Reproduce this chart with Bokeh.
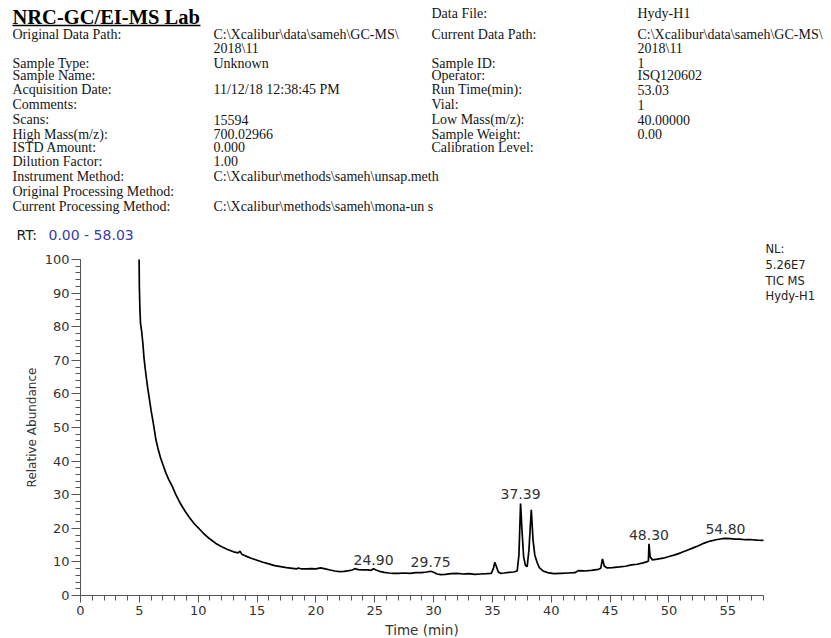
import numpy as np
from bokeh.plotting import figure
from bokeh.models import Range1d, FixedTicker, LinearAxis
from bokeh.core.properties import value
from bokeh.embed import file_html
from bokeh.resources import INLINE

# ---------------- data ----------------
rt = [4.98, 5.0, 5.05, 5.1, 5.2, 5.3, 5.4, 5.55, 5.7, 5.85,
      6.0, 6.2, 6.4, 6.6, 6.8, 7.0, 7.25, 7.5, 7.8, 8.1,
      8.5, 8.9, 9.3, 9.7, 10.1, 10.5, 11.0, 11.5, 12.0, 12.5,
      13.0, 13.4, 13.55, 13.7, 14.0, 14.5, 15.0, 15.5, 16.0, 16.5,
      17.0, 17.5, 18.0, 18.4, 18.5, 18.8, 19.2, 19.6, 20.0, 20.4,
      20.8, 21.2, 21.6, 22.0, 22.4, 22.8, 23.1, 23.3, 23.6, 24.0,
      24.4, 24.7, 24.9, 25.1, 25.4, 25.8, 26.2, 26.6, 27.0, 27.5,
      28.0, 28.5, 29.0, 29.4, 29.75, 30.0, 30.3, 30.6, 31.0, 31.5,
      32.0, 32.5, 33.0, 33.5, 34.0, 34.5, 34.9, 35.1, 35.2, 35.35,
      35.5, 35.7, 36.0, 36.4, 36.8, 37.1, 37.25, 37.39, 37.5, 37.65,
      37.8, 37.95, 38.1, 38.3, 38.45, 38.6, 38.8, 39.0, 39.3, 39.7,
      40.2, 40.8, 41.4, 42.0, 42.3, 42.8, 43.4, 44.0, 44.2, 44.35,
      44.5, 44.75, 45.2, 45.8, 46.3, 46.8, 47.3, 47.8, 48.1, 48.25,
      48.3, 48.4, 48.6, 49.0, 49.5, 50.0, 50.5, 51.0, 51.5, 52.0,
      52.5, 53.0, 53.5, 54.0, 54.5, 54.8, 55.2, 55.6, 56.0, 56.5,
      57.0, 57.5, 58.03]
abundance = [100, 92, 85, 81, 78.5, 75, 70.5, 66, 62, 58.5,
             55, 51, 46.5, 43.5, 41, 39, 36.5, 34.5, 32.5, 30,
             27.3, 25, 23, 21.2, 19.8, 18.3, 16.8, 15.5, 14.5, 13.7,
             13.0, 12.7, 13.2, 12.3, 11.8, 11.1, 10.5, 9.9, 9.4, 8.9,
             8.6, 8.3, 8.1, 7.9, 8.2, 7.9, 7.9, 8.0, 7.9, 8.2,
             7.9, 7.6, 7.3, 7.1, 7.2, 7.4, 7.6, 8.0, 7.7, 7.6,
             7.6, 7.5, 8.0, 7.6, 7.2, 6.9, 6.7, 6.6, 6.6, 6.7,
             6.6, 6.8, 6.8, 7.0, 7.2, 6.9, 6.4, 6.2, 6.3, 6.5,
             6.6, 6.4, 6.5, 6.3, 6.4, 6.5, 6.6, 8.2, 9.9, 8.5,
             7.0, 6.6, 6.7, 6.9, 7.0, 7.3, 12.0, 27.4, 20.0, 11.5,
             9.0, 8.6, 13.5, 25.5, 16.5, 12.0, 9.8, 8.2, 7.3, 6.8,
             6.5, 6.6, 6.7, 6.8, 7.4, 7.3, 7.5, 7.8, 8.1, 10.9,
             8.8, 8.2, 8.3, 8.5, 8.7, 9.1, 9.3, 9.7, 10.0, 10.3,
             15.4, 11.5, 10.6, 10.8, 11.1, 11.6, 12.1, 12.7, 13.4, 14.1,
             14.8, 15.6, 16.2, 16.6, 16.9, 17.0, 16.9, 16.8, 16.8, 16.6,
             16.6, 16.5, 16.4]
assert len(rt) == len(abundance)

peak_labels = ["24.90", "29.75", "37.39", "48.30", "54.80"]
peak_rt = [24.90, 29.75, 37.39, 48.30, 54.80]

x_major = [0, 5, 10, 15, 20, 25, 30, 35, 40, 45, 50, 55]
x_minor = list(range(0, 59))
y_major = [0, 10, 20, 30, 40, 50, 60, 70, 80, 90, 100]
y_minor = list(range(0, 101, 2))

title_text = "NRC-GC/EI-MS Lab"
left_labels = ["Original Data Path:", "Sample Type:", "Sample Name:", "Acquisition Date:",
               "Comments:", "Scans:", "High Mass(m/z):", "ISTD Amount:", "Dilution Factor:",
               "Instrument Method:", "Original Processing Method:", "Current Processing Method:"]
left_values = ["C:\\Xcalibur\\data\\sameh\\GC-MS\\", "2018\\11", "Unknown",
               "11/12/18 12:38:45 PM", "15594", "700.02966", "0.000", "1.00",
               "C:\\Xcalibur\\methods\\sameh\\unsap.meth", "C:\\Xcalibur\\methods\\sameh\\mona-un s"]
right_labels = ["Data File:", "Current Data Path:", "Sample ID:", "Operator:", "Run Time(min):",
                "Vial:", "Low Mass(m/z):", "Sample Weight:", "Calibration Level:"]
right_values = ["Hydy-H1", "C:\\Xcalibur\\data\\sameh\\GC-MS\\", "2018\\11", "1", "ISQ120602",
                "53.03", "1", "40.00000", "0.00"]
nl_lines = ["NL:", "5.26E7", "TIC  MS", "Hydy-H1"]

# ---------------- layout (page pixels, page origin = figure origin) ----------------
W, H = 831, 638
FL, FR, FT, FB = 80, 763, 259, 595          # x=0 / x=58.03 / y=100 / y=0 on page
X0, X1, Y0, Y1 = 0.0, 58.03, 0.0, 100.0

def dx(px):
    return X0 + (px - FL) / (FR - FL) * (X1 - X0)

def dy(py):
    return Y0 + (FB - py) / (FB - FT) * (Y1 - Y0)

left_label_rows = [33.5, 62.5, 75, 89, 104, 119, 133.5, 146.5, 160.5, 176, 191, 205.5]
left_value_rows = [33.5, 48, 62.5, 89, 119, 133.5, 146.5, 160.5, 176, 205.5]
right_label_rows = [12.5, 33.5, 62.5, 75, 89, 104, 119, 133.5, 146.5]
right_value_rows = [12.5, 33.5, 48, 62.5, 75, 89, 104, 119, 133.5]
nl_rows = [248, 264, 280, 295]

p = figure(width=W, height=H, x_range=Range1d(dx(0), dx(W)), y_range=Range1d(dy(H), dy(0)),
           x_axis_type=None, y_axis_type=None, title=None,
           output_backend="svg", toolbar_location=None, min_border=0)
p.outline_line_color = None

# ---- axes, drawn at x=0 / y=0 of the data space ----
axis_col = "#555555"
sans = "DejaVu Sans"
serif = "Liberation Serif"
xaxis = LinearAxis(fixed_location=0, bounds=(X0, X1),
                   ticker=FixedTicker(ticks=x_major, minor_ticks=x_minor))
yaxis = LinearAxis(fixed_location=0, bounds=(Y0, Y1),
                   ticker=FixedTicker(ticks=y_major, minor_ticks=y_minor))
for ax in (xaxis, yaxis):
    ax.axis_line_color = axis_col
    ax.major_tick_line_color = axis_col
    ax.minor_tick_line_color = axis_col
    ax.major_tick_in = 0
    ax.minor_tick_in = 0
    ax.major_label_text_font = sans
    ax.major_label_text_font_size = "13px"
    ax.major_label_text_color = "#333333"
xaxis.major_tick_out = 7
xaxis.minor_tick_out = 5
yaxis.major_tick_out = 9
yaxis.minor_tick_out = 5
xaxis.major_label_standoff = 3
yaxis.major_label_standoff = 2
p.add_layout(xaxis, "below")
p.add_layout(yaxis, "left")

p.line(rt, abundance, line_color="black", line_width=1.7)

# ---- header ----
hdr_size = "14px"
hdr_col = "#151515"

def put(px, rows, texts):
    p.text(x=[dx(px)] * len(texts), y=[dy(r) for r in rows], text=texts,
           text_font=value(serif), text_font_size=value(hdr_size), text_color=hdr_col,
           text_align="left", text_baseline="middle")

p.text(x=[dx(12)], y=[dy(16)], text=[title_text], text_font=value(serif),
       text_font_size=value("20.5px"), text_font_style="bold", text_color="black",
       text_baseline="middle")
p.line(x=[dx(12), dx(200)], y=[dy(25), dy(25)], line_color="black", line_width=1.5)

put(12, left_label_rows, left_labels)
put(213, left_value_rows, left_values)
put(431, right_label_rows, right_labels)
put(637, right_value_rows, right_values)

p.text(x=[dx(16)], y=[dy(234)], text=["RT:"], text_font=value(sans), text_font_size=value("14px"),
       text_color="#222222", text_baseline="middle")
p.text(x=[dx(48)], y=[dy(234)], text=["0.00 - 58.03"], text_font=value(sans),
       text_font_size=value("14px"), text_color="#3a3aa8", text_baseline="middle")

p.text(x=[dx(765)] * len(nl_lines), y=[dy(r) for r in nl_rows], text=nl_lines,
       text_font=value(sans), text_font_size=value("11.5px"), text_color="#222222",
       text_baseline="middle")

# ---- axis titles ----
p.text(x=[dx(31.5)], y=[(Y0 + Y1) / 2], text=["Relative Abundance"], angle=np.pi / 2,
       text_font=value(sans), text_font_size=value("12px"), text_color="#333333",
       text_align="center", text_baseline="middle")
p.text(x=[(X0 + X1) / 2], y=[dy(629)], text=["Time (min)"],
       text_font=value(sans), text_font_size=value("13.5px"), text_color="#333333",
       text_align="center", text_baseline="middle")

# ---- peak labels ----
lab_y = [float(np.interp(r, rt, abundance)) + 9.0 * (Y1 - Y0) / (FB - FT) for r in peak_rt]
p.text(x=peak_rt, y=lab_y, text=peak_labels, text_font=value(sans),
       text_font_size=value("14px"), text_color="#333333",
       text_align="center", text_baseline="middle")

open("out.html", "w").write(file_html(p, INLINE))
